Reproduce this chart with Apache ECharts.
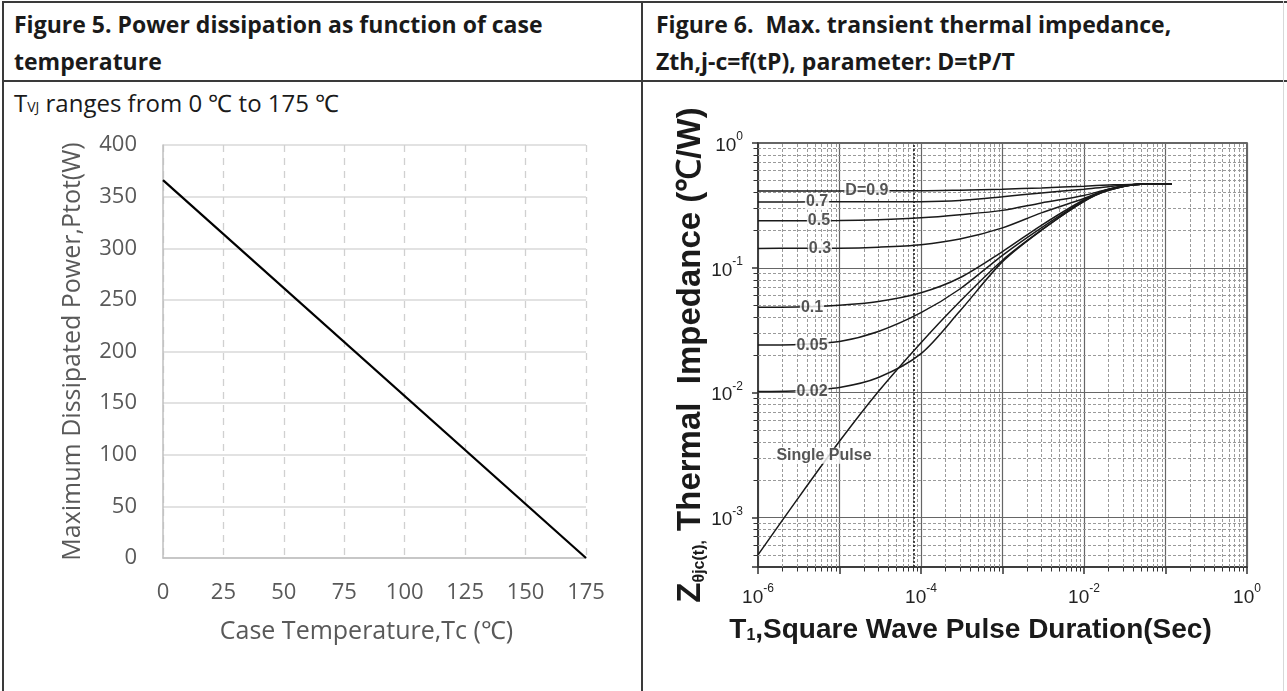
<!DOCTYPE html>
<html><head><meta charset="utf-8">
<script src="https://cdn.jsdelivr.net/npm/echarts@6/dist/echarts.min.js"></script>
<style>
html,body{margin:0;padding:0;background:#fff;width:1287px;height:691px;overflow:hidden;}
.ln{position:absolute;background:#3a3a3a;}
.hd{position:absolute;font-family:"Open Sans",sans-serif;font-weight:700;font-size:23px;line-height:37px;color:#1a1a1a;white-space:nowrap;}
.sub{position:absolute;font-family:"Open Sans",sans-serif;font-size:24px;line-height:28px;color:#1a1a1a;white-space:nowrap;}
#chart{position:absolute;left:0;top:0;width:1287px;height:691px;}
</style></head><body>
<div class="ln" style="left:2px;top:1px;width:1285px;height:2px"></div>
<div class="ln" style="left:2px;top:80px;width:1285px;height:2px"></div>
<div class="ln" style="left:2px;top:1px;width:2px;height:690px"></div>
<div class="ln" style="left:641px;top:1px;width:2px;height:690px"></div>
<div class="ln" style="left:1283px;top:1px;width:1px;height:690px;background:#d8d8d8"></div>
<div class="hd" style="left:14px;top:6px">Figure 5. Power dissipation as function of case<br>temperature</div>
<div class="hd" style="left:656px;top:6px">Figure 6.&nbsp; Max. transient thermal impedance,<br>Zth,j-c=f(tP), parameter: D=tP/T</div>
<div class="sub" style="left:14px;top:89px">T<span style="font-size:14px">VJ</span> ranges from 0 ℃ to 175 ℃</div>
<div id="chart"></div>
<script>
// ---- Figure 5 data ----
const caseTempC = [0, 175];
const ptotW = [366, 0];

// ---- Figure 6 data ----
const pulseDurationS = [1e-6, 3e-6, 1e-5, 3e-5, 1e-4, 3e-4, 1e-3, 3e-3, 1e-2, 2e-2, 5e-2, 0.12];
const zthD09 = [0.413, 0.413, 0.413, 0.414, 0.414, 0.4188, 0.4266, 0.4365, 0.4508, 0.4603, 0.468, 0.468];
const zthD07 = [0.3373, 0.3373, 0.338, 0.338, 0.3388, 0.3467, 0.3715, 0.3981, 0.4266, 0.4467, 0.468, 0.468];
const zthD05 = [0.2377, 0.2382, 0.2388, 0.2427, 0.2512, 0.2661, 0.2884, 0.3311, 0.3802, 0.4266, 0.468, 0.468];
const zthD03 = [0.1429, 0.1432, 0.1435, 0.1462, 0.1531, 0.1698, 0.2089, 0.2754, 0.3589, 0.4266, 0.468, 0.468];
const zthD01 = [0.0482, 0.0484, 0.0501, 0.0537, 0.0631, 0.0832, 0.1349, 0.2188, 0.3508, 0.4246, 0.468, 0.468];
const zthD005 = [0.024, 0.02427, 0.0257, 0.0309, 0.0437, 0.0676, 0.1259, 0.2089, 0.345, 0.4217, 0.468, 0.468];
const zthD002 = [0.0102, 0.01035, 0.011, 0.0132, 0.0205, 0.045, 0.112, 0.2, 0.341, 0.418, 0.468, 0.468];
const zthSingle = [0.0005, 0.00138, 0.00407, 0.0102, 0.0251, 0.0537, 0.115, 0.200, 0.340, 0.417, 0.468, 0.468];

const curveLabelText = ['D=0.9', '0.7', '0.5', '0.3', '0.1', '0.05', '0.02', 'Single Pulse'];
const curveLabelX = [2.17e-5, 5.3e-6, 5.6e-6, 5.75e-6, 4.6e-6, 4.6e-6, 4.6e-6, 6.45e-6];
const curveLabelY = [0.413, 0.337, 0.238, 0.143, 0.0482, 0.024, 0.0102, 0.00312];

const xDecadeRange = [-6, 0];
const yDecadeRange = [-4, 0];
const xMinValue = 1e-6, xMaxValue = 1;
const yMinValue = 4e-4, yMaxValue = 1;
const extraDottedX = [8.2e-5];

// minor log grid values k*10^e
function minorVals(lo, hi) {
  const out = [];
  for (let e = lo; e < hi; e++) for (let k = 2; k <= 9; k++) out.push(k * Math.pow(10, e));
  return out;
}
const xMinor = minorVals(xDecadeRange[0], xDecadeRange[1]);
const yMinor = minorVals(yDecadeRange[0], yDecadeRange[1]).filter(v => v > yMinValue && v < yMaxValue);

function powLabel(v, onlyEven) {
  const l = Math.log10(v);
  const e = Math.round(l);
  if (Math.abs(l - e) > 1e-6) return '';
  if (onlyEven && e % 2 !== 0) return '';
  return '{b|10}{s|' + e + '}';
}

const RF = 'Liberation Sans, Arial, sans-serif';
const LF = 'Open Sans, sans-serif';
const powRich = {
  b: {fontFamily: RF, fontSize: 19, color: '#222', lineHeight: 24, verticalAlign: 'bottom'},
  s: {fontFamily: RF, fontSize: 12, color: '#222', lineHeight: 12, verticalAlign: 'top'}
};

const curves = [zthD09, zthD07, zthD05, zthD03, zthD01, zthD005, zthD002, zthSingle];

const chart = echarts.init(document.getElementById('chart'), null, {renderer: 'canvas'});
const series = [];

series.push({
  type: 'line', xAxisIndex: 0, yAxisIndex: 0,
  data: caseTempC.map((t, i) => [t, ptotW[i]]),
  symbol: 'none', lineStyle: {color: '#000', width: 2.2}
});

// minor grid for the log chart (dashed)
series.push({
  type: 'lines', coordinateSystem: 'cartesian2d', xAxisIndex: 1, yAxisIndex: 1,
  z: 1, silent: true, polyline: false,
  lineStyle: {color: '#9a9a9a', type: [3, 2], width: 1, opacity: 1},
  data: xMinor.map(v => ({coords: [[v, yMinValue], [v, yMaxValue]]}))
    .concat(yMinor.map(v => ({coords: [[xMinValue, v], [xMaxValue, v]]})))
});
// dark dotted vertical line
series.push({
  type: 'lines', coordinateSystem: 'cartesian2d', xAxisIndex: 1, yAxisIndex: 1,
  z: 1, silent: true, polyline: false,
  lineStyle: {color: '#222', type: [2, 2], width: 1.6, opacity: 1},
  data: extraDottedX.map(v => ({coords: [[v, yMinValue], [v, yMaxValue]]}))
});
// minor tick marks outside the plot (bottom and left)
series.push({
  type: 'lines', coordinateSystem: 'cartesian2d', xAxisIndex: 1, yAxisIndex: 1,
  z: 1, silent: true, polyline: false, clip: false,
  lineStyle: {color: '#333', width: 1, opacity: 1},
  data: xMinor.map(v => ({coords: [[v, yMinValue], [v, yMinValue * 0.92]]}))
    .concat(yMinor.map(v => ({coords: [[xMinValue, v], [xMinValue * 0.88, v]]})))
});

curves.forEach((c, idx) => {
  series.push({
    type: 'line', xAxisIndex: 1, yAxisIndex: 1, z: 2,
    name: curveLabelText[idx],
    data: pulseDurationS.map((x, i) => [x, c[i]]),
    symbol: 'none', smooth: 0.3,
    lineStyle: {color: '#1a1a1a', width: 1.5}
  });
});

series.push({
  type: 'scatter', xAxisIndex: 1, yAxisIndex: 1, z: 5, silent: true,
  symbolSize: 2, itemStyle: {color: 'rgba(255,255,255,0)'},
  data: curveLabelX.map((x, i) => ({value: [x, curveLabelY[i]], name: curveLabelText[i]})),
  label: {
    show: true, position: 'inside', formatter: '{b}',
    fontFamily: RF, fontWeight: 'bold', fontSize: 16, color: '#2a2a2a',
    backgroundColor: '#fff', padding: [0, 1]
  }
});

chart.setOption({
  animation: false,
  backgroundColor: 'transparent',
  grid: [
    {left: 163, top: 145, width: 423, height: 413, containLabel: false},
    {left: 758, top: 143, width: 489, height: 424, containLabel: false, show: true, borderColor: '#333', borderWidth: 1.5}
  ],
  xAxis: [
    {
      type: 'value', gridIndex: 0, min: 0, max: 175, interval: 25,
      name: 'Case Temperature,Tc (℃)', nameLocation: 'middle', nameGap: 61,
      nameTextStyle: {fontFamily: LF, fontSize: 25, color: '#595959', padding: [0, 16, 0, 0]},
      axisLine: {show: true, lineStyle: {color: '#bfbfbf', width: 1.5}},
      axisTick: {show: false},
      axisLabel: {fontFamily: LF, fontSize: 22, color: '#595959', margin: 24},
      splitLine: {show: true, lineStyle: {color: '#d0d0d0', type: [7, 6], width: 1.3}}
    },
    {
      type: 'log', logBase: 10, gridIndex: 1, min: xMinValue, max: xMaxValue,
      name: '{b|T}{sub|1}{b|,Square Wave Pulse Duration(Sec)}', nameLocation: 'middle', nameGap: 49,
      nameTextStyle: {
        padding: [0, 64, 0, 0],
        rich: {
          b: {fontFamily: RF, fontWeight: 'bold', fontSize: 28, color: '#1a1a1a'},
          sub: {fontFamily: RF, fontWeight: 'bold', fontSize: 16, color: '#1a1a1a', verticalAlign: 'bottom', lineHeight: 24}
        }
      },
      axisLine: {show: true, lineStyle: {color: '#333', width: 1.5}},
      axisTick: {show: true, inside: false, length: 7, lineStyle: {color: '#333', width: 1.5}},
      axisLabel: {interval: 0, margin: 16, formatter: v => powLabel(v, true), rich: powRich},
      splitLine: {show: true, lineStyle: {color: '#666', width: 1.2}}
    }
  ],
  yAxis: [
    {
      type: 'value', gridIndex: 0, min: 0, max: 400, interval: 50,
      name: 'Maximum Dissipated Power,Ptot(W)', nameLocation: 'middle', nameGap: 78,
      nameTextStyle: {fontFamily: LF, fontSize: 25, color: '#595959'},
      axisLine: {show: true, lineStyle: {color: '#bfbfbf', width: 1.5}},
      axisTick: {show: false},
      axisLabel: {fontFamily: LF, fontSize: 22, color: '#595959', margin: 26},
      splitLine: {show: true, lineStyle: {color: '#d9d9d9', width: 1.5}}
    },
    {
      type: 'log', logBase: 10, gridIndex: 1, min: yMinValue, max: yMaxValue,
      name: '{z|Z}{sub|θjc(t),}{t| Thermal  Impedance (℃/W)}', nameLocation: 'middle', nameGap: 48,
      nameTextStyle: {
        rich: {
          z: {fontFamily: RF, fontWeight: 'bold', fontSize: 33, color: '#1a1a1a'},
          sub: {fontFamily: RF, fontWeight: 'bold', fontSize: 16, color: '#1a1a1a', verticalAlign: 'bottom', lineHeight: 28},
          t: {fontFamily: RF, fontWeight: 'bold', fontSize: 33, color: '#1a1a1a'}
        }
      },
      axisLine: {show: true, lineStyle: {color: '#333', width: 1.5}},
      axisTick: {show: true, inside: false, length: 6, lineStyle: {color: '#333', width: 1.5}},
      axisLabel: {margin: 15, formatter: v => powLabel(v, false), rich: powRich},
      splitLine: {show: true, lineStyle: {color: '#666', width: 1.2}}
    }
  ],
  series: series
});
</script>
</body></html>
